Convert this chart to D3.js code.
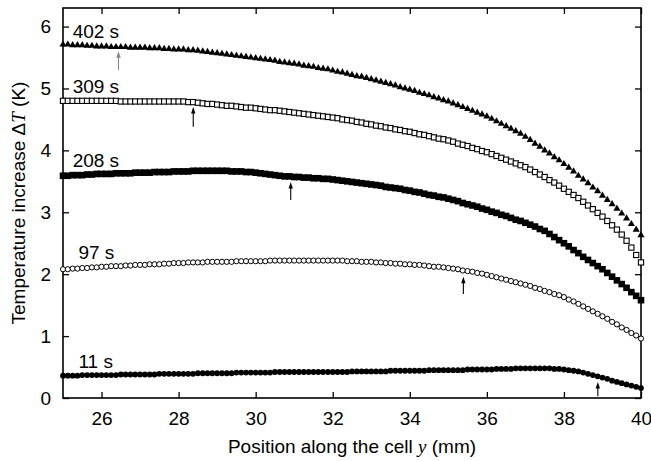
<!DOCTYPE html>
<html>
<head>
<meta charset="utf-8">
<script src="https://cdn.jsdelivr.net/npm/d3@7"></script>
<style>
body { margin: 0; background: #fff; }
text { font-family: "Liberation Sans", Arial, sans-serif; fill: #000; }
</style>
</head>
<body>
<div id="chart"></div>
<script>
// sample positions along the cell (mm), one reading every 0.125 mm
const positions = d3.range(121).map(i => 25 + i * 0.125);

const t402 = [
  5.71,5.71,5.70,5.70,5.70,5.69,5.69,5.68,
  5.68,5.68,5.67,5.67,5.67,5.67,5.66,5.66,
  5.66,5.66,5.65,5.65,5.65,5.64,5.64,5.63,
  5.63,5.63,5.62,5.62,5.61,5.60,5.59,5.58,
  5.57,5.56,5.55,5.54,5.53,5.52,5.51,5.50,
  5.49,5.48,5.47,5.46,5.45,5.43,5.42,5.41,
  5.40,5.39,5.37,5.36,5.35,5.33,5.32,5.31,
  5.29,5.27,5.26,5.24,5.22,5.20,5.19,5.17,
  5.15,5.13,5.11,5.09,5.07,5.05,5.02,5.00,
  4.98,4.96,4.93,4.91,4.89,4.86,4.84,4.81,
  4.79,4.76,4.73,4.70,4.67,4.64,4.61,4.58,
  4.55,4.51,4.47,4.43,4.39,4.35,4.31,4.27,
  4.22,4.17,4.11,4.06,4.00,3.95,3.89,3.84,
  3.78,3.72,3.66,3.59,3.53,3.47,3.40,3.34,
  3.27,3.20,3.13,3.06,2.98,2.90,2.81,2.72,
  2.63
];

const t309 = [
  4.80,4.80,4.80,4.80,4.80,4.80,4.80,4.80,
  4.80,4.80,4.80,4.80,4.79,4.79,4.79,4.79,
  4.79,4.79,4.79,4.79,4.79,4.79,4.79,4.79,
  4.79,4.79,4.78,4.78,4.77,4.76,4.75,4.75,
  4.74,4.73,4.72,4.72,4.71,4.70,4.69,4.69,
  4.68,4.67,4.66,4.65,4.65,4.64,4.63,4.62,
  4.61,4.60,4.59,4.58,4.57,4.56,4.55,4.54,
  4.53,4.52,4.50,4.49,4.48,4.46,4.45,4.43,
  4.42,4.40,4.39,4.37,4.36,4.34,4.33,4.31,
  4.30,4.28,4.26,4.25,4.23,4.21,4.19,4.18,
  4.16,4.14,4.11,4.09,4.07,4.04,4.02,3.99,
  3.97,3.94,3.91,3.88,3.85,3.82,3.79,3.76,
  3.73,3.69,3.65,3.61,3.57,3.52,3.48,3.43,
  3.38,3.33,3.28,3.23,3.17,3.11,3.05,2.99,
  2.93,2.86,2.79,2.72,2.64,2.54,2.43,2.31,
  2.19
];

const t208 = [
  3.59,3.59,3.60,3.60,3.60,3.61,3.61,3.62,
  3.62,3.62,3.62,3.63,3.63,3.63,3.63,3.64,
  3.64,3.64,3.64,3.65,3.65,3.65,3.65,3.66,
  3.66,3.66,3.66,3.67,3.67,3.67,3.67,3.67,
  3.67,3.67,3.67,3.66,3.66,3.66,3.65,3.65,
  3.64,3.63,3.62,3.61,3.60,3.59,3.58,3.58,
  3.57,3.57,3.56,3.56,3.55,3.55,3.54,3.54,
  3.53,3.52,3.51,3.50,3.49,3.48,3.47,3.46,
  3.45,3.44,3.43,3.41,3.40,3.39,3.38,3.36,
  3.35,3.33,3.32,3.30,3.28,3.27,3.25,3.24,
  3.22,3.20,3.18,3.15,3.13,3.11,3.09,3.06,
  3.04,3.01,2.99,2.96,2.94,2.91,2.88,2.86,
  2.83,2.80,2.77,2.73,2.70,2.65,2.60,2.55,
  2.50,2.45,2.39,2.34,2.28,2.23,2.18,2.13,
  2.08,2.02,1.96,1.90,1.84,1.78,1.71,1.65,
  1.58
];

const t97 = [
  2.08,2.08,2.09,2.09,2.10,2.10,2.11,2.11,
  2.12,2.12,2.13,2.13,2.13,2.14,2.14,2.15,
  2.15,2.15,2.16,2.16,2.16,2.17,2.17,2.18,
  2.18,2.18,2.19,2.19,2.19,2.19,2.20,2.20,
  2.20,2.20,2.20,2.20,2.21,2.21,2.21,2.21,
  2.21,2.21,2.21,2.22,2.22,2.22,2.22,2.22,
  2.22,2.22,2.22,2.22,2.22,2.22,2.22,2.22,
  2.22,2.22,2.22,2.21,2.21,2.21,2.20,2.20,
  2.20,2.19,2.19,2.18,2.18,2.17,2.17,2.16,
  2.16,2.15,2.15,2.14,2.13,2.12,2.12,2.11,
  2.10,2.09,2.08,2.06,2.05,2.04,2.02,2.01,
  1.99,1.97,1.95,1.93,1.91,1.89,1.87,1.85,
  1.83,1.81,1.78,1.76,1.73,1.71,1.68,1.66,
  1.63,1.59,1.56,1.52,1.48,1.44,1.40,1.36,
  1.32,1.28,1.23,1.19,1.14,1.10,1.05,1.01,
  0.96
];

const t11 = [
  0.36,0.36,0.36,0.36,0.37,0.37,0.37,0.37,
  0.37,0.37,0.37,0.37,0.38,0.38,0.38,0.38,
  0.38,0.38,0.38,0.38,0.39,0.39,0.39,0.39,
  0.39,0.39,0.39,0.39,0.40,0.40,0.40,0.40,
  0.40,0.40,0.40,0.40,0.41,0.41,0.41,0.41,
  0.41,0.41,0.41,0.41,0.42,0.42,0.42,0.42,
  0.42,0.42,0.42,0.42,0.42,0.42,0.42,0.42,
  0.42,0.42,0.42,0.42,0.43,0.43,0.43,0.43,
  0.43,0.43,0.43,0.43,0.44,0.44,0.44,0.44,
  0.44,0.44,0.44,0.44,0.45,0.45,0.45,0.45,
  0.45,0.45,0.45,0.45,0.46,0.46,0.46,0.46,
  0.46,0.46,0.47,0.47,0.47,0.47,0.48,0.48,
  0.48,0.48,0.48,0.48,0.48,0.48,0.47,0.47,
  0.46,0.45,0.44,0.43,0.41,0.39,0.37,0.35,
  0.33,0.31,0.28,0.26,0.24,0.22,0.20,0.18,
  0.16
];

const seriesNames = ["402 s", "309 s", "208 s", "97 s", "11 s"];
const seriesValues = [t402, t309, t208, t97, t11];

// where each time label sits (data units)
const labelX = [25.25, 25.25, 25.25, 25.4, 25.4];
const labelY = [5.82, 4.93, 3.73, 2.25, 0.48];

// arrows: position, foot and tip (data units)
const arrowX = [26.44, 28.38, 30.91, 35.39, 38.88];
const arrowFrom = [5.30, 4.38, 3.20, 1.68, 0.03];
const arrowTo = [5.60, 4.70, 3.49, 1.96, 0.26];

const xTicks = [26, 28, 30, 32, 34, 36, 38, 40];
const yTicks = [0, 1, 2, 3, 4, 5, 6];

const width = 651;
const height = 461;
const margin = { top: 8, right: 10, bottom: 63, left: 63 };

const svg = d3.select("#chart")
  .append("svg")
  .attr("width", width)
  .attr("height", height);

const x = d3.scaleLinear().domain([25, 40]).range([margin.left, width - margin.right]);
const y = d3.scaleLinear().domain([0, 6.3]).range([height - margin.bottom, margin.top]);

// axes, ticks pointing inward on all four sides
const axisB = svg.append("g")
  .attr("transform", `translate(0,${y(0)})`)
  .call(d3.axisBottom(x).tickValues(xTicks).tickFormat(d3.format("d"))
    .tickSizeInner(-6).tickSizeOuter(0).tickPadding(13.5));
const axisL = svg.append("g")
  .attr("transform", `translate(${x(25)},0)`)
  .call(d3.axisLeft(y).tickValues(yTicks).tickFormat(d3.format("d"))
    .tickSizeInner(-6).tickSizeOuter(0).tickPadding(12));
const axisT = svg.append("g")
  .attr("transform", `translate(0,${y(6.3)})`)
  .call(d3.axisTop(x).tickValues(xTicks).tickSizeInner(-6).tickSizeOuter(0).tickFormat(""));
const axisR = svg.append("g")
  .attr("transform", `translate(${x(40)},0)`)
  .call(d3.axisRight(y).tickValues(yTicks).tickSizeInner(-6).tickSizeOuter(0).tickFormat(""));

[axisB, axisL, axisT, axisR].forEach(g => {
  g.select(".domain").remove();
  g.selectAll("line").attr("stroke", "#000").attr("stroke-width", 1.3);
  g.selectAll("text").attr("font-size", 19).attr("fill", "#000")
    .style("font-family", "'Liberation Sans', Arial, sans-serif");
});

svg.append("rect")
  .attr("x", x(25))
  .attr("y", y(6.3))
  .attr("width", x(40) - x(25))
  .attr("height", y(0) - y(6.3))
  .attr("fill", "none")
  .attr("stroke", "#000")
  .attr("stroke-width", 1.6);

// data markers
const marks = svg.append("g");

seriesValues.forEach((vals, s) => {
  const pts = positions.map((p, i) => ({ x: p, v: vals[i] }));
  const g = marks.append("g");
  if (s === 0) {
    g.selectAll("path").data(pts).enter().append("path")
      .attr("d", d3.symbol(d3.symbolTriangle, 22)())
      .attr("transform", d => `translate(${x(d.x)},${y(d.v)})`)
      .attr("fill", "#000");
  } else if (s === 1) {
    g.selectAll("rect").data(pts).enter().append("rect")
      .attr("x", d => x(d.x) - 2.6)
      .attr("y", d => y(d.v) - 2.6)
      .attr("width", 5.2)
      .attr("height", 5.2)
      .attr("fill", "#fff")
      .attr("stroke", "#000")
      .attr("stroke-width", 1.1);
  } else if (s === 2) {
    g.selectAll("rect").data(pts).enter().append("rect")
      .attr("x", d => x(d.x) - 3.3)
      .attr("y", d => y(d.v) - 3.3)
      .attr("width", 6.6)
      .attr("height", 6.6)
      .attr("fill", "#000");
  } else if (s === 3) {
    g.selectAll("circle").data(pts).enter().append("circle")
      .attr("cx", d => x(d.x))
      .attr("cy", d => y(d.v))
      .attr("r", 2.6)
      .attr("fill", "#fff")
      .attr("stroke", "#000")
      .attr("stroke-width", 1);
  } else {
    g.selectAll("circle").data(pts).enter().append("circle")
      .attr("cx", d => x(d.x))
      .attr("cy", d => y(d.v))
      .attr("r", 2.9)
      .attr("fill", "#000");
  }
});

// arrows marking the front
arrowX.forEach((ax, i) => {
  const col = i === 0 ? "#888" : "#000";
  svg.append("line")
    .attr("x1", x(ax)).attr("x2", x(ax))
    .attr("y1", y(arrowFrom[i])).attr("y2", y(arrowTo[i]) + 5)
    .attr("stroke", col)
    .attr("stroke-width", 1.1);
  svg.append("path")
    .attr("d", `M${x(ax)},${y(arrowTo[i])} l-2.2,6.5 l4.4,0 z`)
    .attr("fill", col);
});

// time labels
seriesNames.forEach((name, i) => {
  svg.append("text")
    .attr("x", x(labelX[i]))
    .attr("y", y(labelY[i]))
    .attr("font-size", 19)
    .text(name);
});

// axis titles
const xTitle = svg.append("text")
  .attr("x", (x(25) + x(40)) / 2)
  .attr("y", 453)
  .attr("text-anchor", "middle")
  .attr("font-size", 19);
xTitle.append("tspan").text("Position along the cell ");
xTitle.append("tspan").style("font-family", "'Liberation Serif', 'Times New Roman', serif").attr("font-style", "italic").text("y");
xTitle.append("tspan").text(" (mm)");

const yTitle = svg.append("text")
  .attr("transform", `translate(25,${(y(0) + y(6.3)) / 2}) rotate(-90)`)
  .attr("text-anchor", "middle")
  .attr("font-size", 19);
yTitle.append("tspan").text("Temperature increase \u0394");
yTitle.append("tspan").style("font-family", "'Liberation Serif', 'Times New Roman', serif").attr("font-style", "italic").text("T");
yTitle.append("tspan").text(" (K)");
</script>
</body>
</html>
